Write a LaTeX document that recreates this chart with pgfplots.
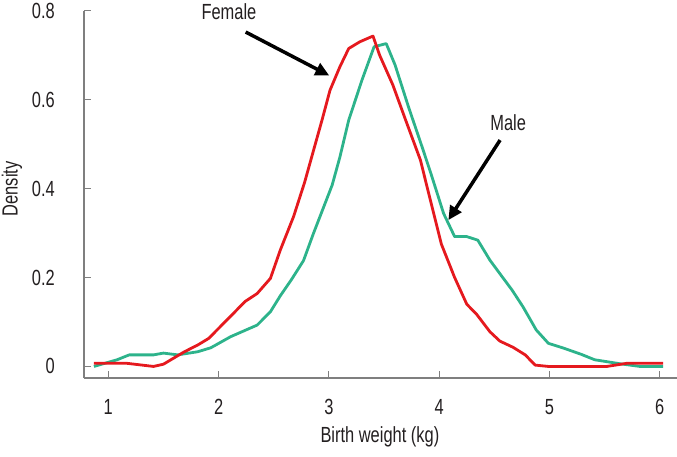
\documentclass[border=0pt]{standalone}
\usepackage{pgfplots}
\pgfplotsset{compat=1.18}
\usepackage{fontspec}
\setmainfont{Liberation Sans}[FakeStretch=0.75]
\usetikzlibrary{arrows.meta}
\definecolor{fem}{HTML}{E5191E}
\definecolor{mal}{HTML}{2DB38B}
\definecolor{axgray}{HTML}{7F7F7F}
\definecolor{txt}{HTML}{231F20}
\begin{document}
\begin{tikzpicture}
\useasboundingbox (-84bp,-79bp) rectangle (593bp,378bp);
\begin{axis}[
  scale only axis, width=593bp, height=367.3bp,
  xmin=0.78, xmax=6.156, ymin=-0.026, ymax=0.8,
  axis x line*=bottom, axis y line*=left,
  axis line style={axgray, line width=1.2bp, -},
  tick align=inside, major tick length=7bp,
  tick style={axgray, line width=1.2bp},
  xtick={1,2,3,4,5,6}, ytick={0,0.2,0.4,0.6,0.8},
  xticklabels={1,2,3,4,5,6},
  yticklabels={0,0.2,0.4,0.6,0.8},
  /pgf/number format/assume math mode=true,
  tick label style={font=\fontsize{22}{24}\selectfont, text=txt, inner sep=0pt},
  xticklabel style={anchor=center, yshift=-29bp},
  yticklabel style={anchor=east, xshift=-29bp},
  xlabel={Birth weight (kg)}, ylabel={Density},
  every axis x label/.style={at={(axis description cs:0.499,-0.1606)}, anchor=center, font=\fontsize{22}{24}\selectfont, text=txt, inner sep=0pt},
  every axis y label/.style={at={(axis description cs:-0.1214,0.515)}, rotate=90, anchor=center, font=\fontsize{22}{24}\selectfont, text=txt, inner sep=0pt},
  clip=false,
]
\addplot[mal, line width=2.8bp, line join=round] coordinates {
(0.87,0.000) (1.08,0.015) (1.19,0.026) (1.41,0.026) (1.50,0.030) (1.63,0.026)
(1.81,0.033) (1.93,0.042) (2.11,0.067) (2.35,0.093) (2.47,0.123) (2.56,0.159)
(2.66,0.195) (2.77,0.238) (2.86,0.299) (3.03,0.408) (3.10,0.471) (3.18,0.554)
(3.30,0.644) (3.41,0.719) (3.52,0.726) (3.60,0.678) (3.72,0.585) (3.85,0.490)
(3.93,0.430) (4.04,0.344) (4.14,0.292) (4.25,0.292) (4.35,0.284) (4.46,0.239)
(4.57,0.202) (4.66,0.172) (4.76,0.134) (4.88,0.082) (4.99,0.052) (5.13,0.041)
(5.29,0.027) (5.41,0.015) (5.64,0.006) (5.82,0.000) (6.03,0.000)
};
\addplot[fem, line width=2.8bp, line join=round] coordinates {
(0.87,0.007) (1.17,0.007) (1.41,0.000) (1.50,0.005) (1.69,0.033) (1.81,0.048)
(1.91,0.063) (2.09,0.108) (2.24,0.146) (2.35,0.164) (2.47,0.198) (2.56,0.262)
(2.68,0.337) (2.78,0.414) (2.87,0.494) (2.94,0.556) (3.01,0.621) (3.10,0.674)
(3.18,0.715) (3.28,0.730) (3.40,0.743) (3.46,0.700) (3.58,0.633) (3.69,0.558)
(3.83,0.464) (3.92,0.374) (4.02,0.275) (4.14,0.200) (4.25,0.140) (4.34,0.117)
(4.46,0.078) (4.55,0.057) (4.67,0.043) (4.78,0.026) (4.87,0.003) (4.99,0.000)
(5.52,0.000) (5.70,0.007) (6.03,0.007)
};
\node[font=\fontsize{22}{24}\selectfont, text=txt, inner sep=0pt] at (axis cs:2.094,0.797) {Female};
\node[font=\fontsize{22}{24}\selectfont, text=txt, inner sep=0pt] at (axis cs:4.625,0.549) {Male};
\draw[black, line width=3.5bp, -{Triangle[length=14bp, width=13bp]}] (axis cs:2.246,0.752) -- (axis cs:3.004,0.654);
\draw[black, line width=3.5bp, -{Triangle[length=14bp, width=13bp]}] (axis cs:4.552,0.509) -- (axis cs:4.083,0.329);
\end{axis}
\end{tikzpicture}
\end{document}
